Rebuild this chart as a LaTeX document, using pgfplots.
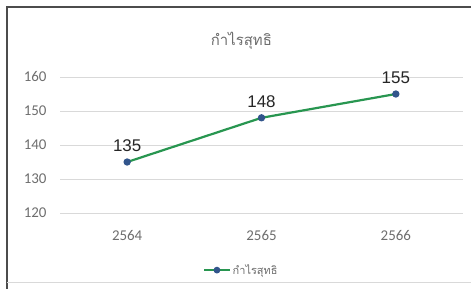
\documentclass[border=0pt]{standalone}
\usepackage{pgfplots}
\pgfplotsset{compat=1.18}
\usepackage{fontspec}
\setmainfont{Carlito}
\newfontfamily\thaifont[Script=Thai]{Loma}
\newfontfamily\labfont{Liberation Sans}
\definecolor{linegreen}{RGB}{40,150,80}
\definecolor{markblue}{RGB}{50,85,140}
\definecolor{gridgray}{RGB}{217,217,217}
\definecolor{ticktext}{RGB}{110,110,110}
\begin{document}
\begin{tikzpicture}
\useasboundingbox (0,0) rectangle (471bp,289bp);
\fill[white] (0,0) rectangle (471bp,289bp);
\draw[line width=1.6bp, black!70] (7bp,0) -- (7bp,282bp) -- (471bp,282bp);
\draw[line width=0.6bp, gridgray] (7bp,7bp) -- (471bp,7bp);
\begin{axis}[
  at={(60bp,76bp)}, anchor=south west,
  width=403bp, height=136bp, scale only axis,
  xmin=-0.5, xmax=2.5, ymin=120, ymax=160,
  xtick={0,1,2}, xticklabels={2564,2565,2566},
  ytick={120,130,140,150,160},
  axis line style={draw=none},
  major tick length=0pt,
  ymajorgrids, grid style={gridgray, line width=0.8bp},
  tick label style={font=\fontsize{15}{17}\selectfont, text=ticktext},
  /pgf/number format/assume math mode=true,
  yticklabel style={xshift=-10bp},
  xticklabel style={yshift=-14bp},
  title={\thaifont กำไรสุทธิ},
  title style={font=\thaifont\fontsize{15}{18}\selectfont, text=ticktext, at={(0.45,1)}, yshift=18bp},
  legend style={at={(0.45,-0.42)}, anchor=center, draw=none, font=\thaifont\fontsize{11}{13}\selectfont, text=ticktext, legend cell align=left},
  legend image code/.code={\draw[#1, line width=2bp] (0cm,0cm) -- (0.9cm,0cm); \fill[markblue] (0.45cm,0cm) circle (2.2bp);},
  clip=false,
]
\addplot[linegreen, line width=2.2bp, mark=*, mark size=2.5bp, mark options={fill=markblue, draw=markblue},
  nodes near coords, every node near coord/.style={font=\labfont\fontsize{17}{19}\selectfont, text=black!85, yshift=6bp}]
  coordinates {(0,135) (1,148) (2,155)};
\addlegendentry{กำไรสุทธิ}
\end{axis}
\end{tikzpicture}
\end{document}
